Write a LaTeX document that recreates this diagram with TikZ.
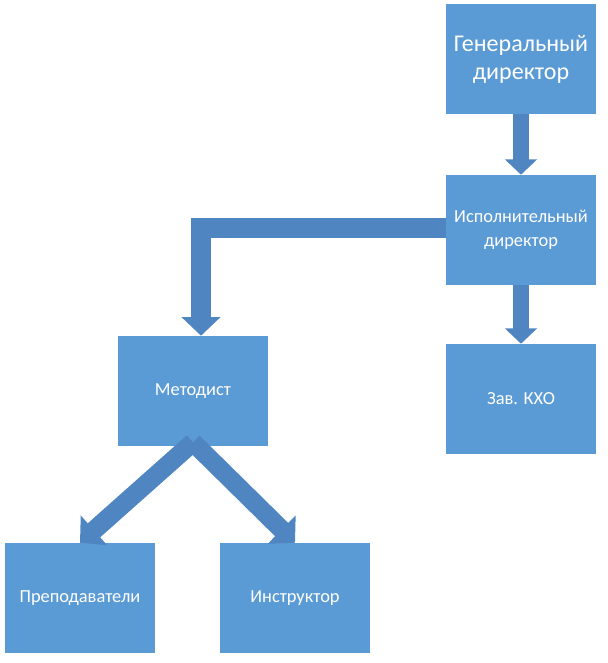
\documentclass[tikz,border=0pt]{standalone}
\usepackage{fontspec}
\setmainfont{Carlito}
\usepackage{tikz}
\usetikzlibrary{arrows.meta}

\definecolor{boxblue}{RGB}{91,155,213}
\definecolor{arrowblue}{RGB}{79,134,193}

\begin{document}
\begin{tikzpicture}[x=0.75pt, y=-0.75pt,
	box/.style={draw=none, fill=boxblue, rectangle, minimum width=112.5pt, minimum height=82.5pt,
		text=white, align=center, font=\fontsize{13.8pt}{18pt}\selectfont, inner sep=0pt},
	flow/.style={draw=arrowblue, line width=15pt, -{Triangle[width=28.5pt,length=14pt]}}]
	\useasboundingbox (0,0) rectangle (607,663);
	
	\node[box, font=\fontsize{18pt}{21pt}\selectfont] (gen) at (521,59) {Генеральный\\директор};
	\node[box] (isp) at (521,230) {Исполнительный\\директор};
	\node[box] (zav) at (521,399) {Зав. КХО};
	\node[box] (met) at (193,391) {Методист};
	\node[box] (prep) at (80,598) {Преподаватели};
	\node[box] (inst) at (295,598) {Инструктор};
	
	\draw[flow, line width=12pt, -{Triangle[width=23.5pt,length=11.5pt]}] (gen.south) -- (isp.north);
	\draw[flow, line width=12pt, -{Triangle[width=23.5pt,length=11.5pt]}] (isp.south) -- (zav.north);
	\draw[flow] ([yshift=1.5pt]isp.west) -| ([xshift=6pt]met.north);
	
	%\draw[flow] (met.south) -- (prep.north);
	\draw[flow, line width=14pt, -{Triangle[width=29pt,length=14pt]}] ([yshift=3pt]met.south) -- (prep.north);
	\draw[flow, line width=14pt, -{Triangle[width=29pt,length=14pt]}] ([yshift=3pt]met.south) -- (inst.north);
\end{tikzpicture}
\end{document}
